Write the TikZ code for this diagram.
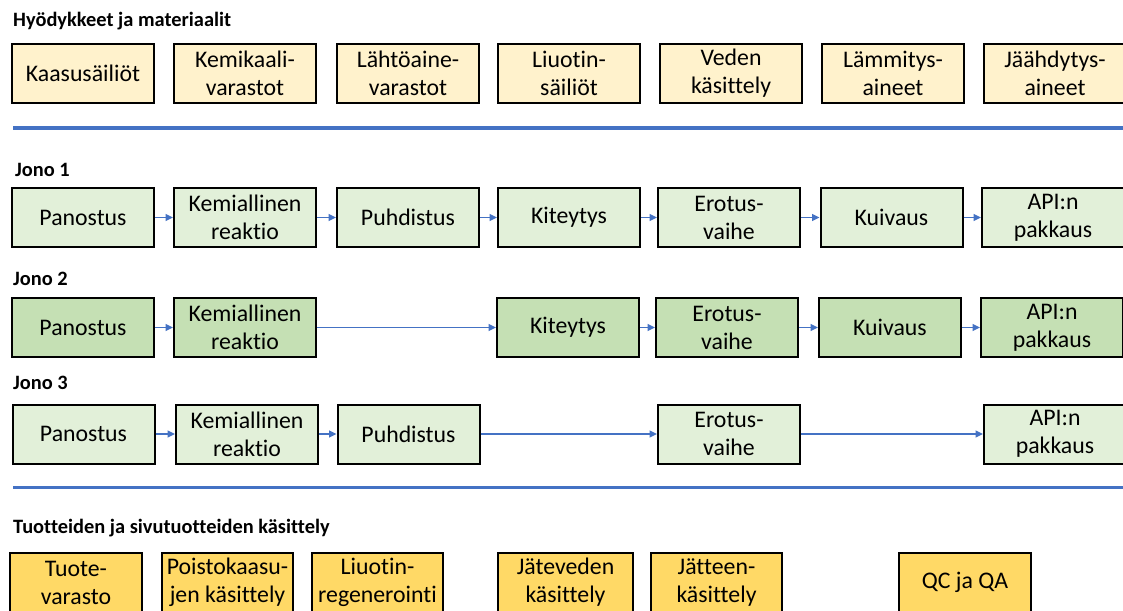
\documentclass[tikz,border=0pt]{standalone}
\usepackage{fontspec}
\setmainfont{Carlito}[Ligatures=NoCommon, Contextuals=NoAlternate, RawFeature={-liga;-clig;-calt;-dlig}]
\usetikzlibrary{arrows.meta}
\definecolor{peach}{HTML}{FFF2CC}
\definecolor{lgreen}{HTML}{E2F0D9}
\definecolor{mgreen}{HTML}{C5E0B4}
\definecolor{gold}{HTML}{FFD966}
\definecolor{oblue}{HTML}{4472C4}
\begin{document}
\begin{tikzpicture}[x=1pt,y=-1pt,
  box/.style={draw=black, line width=2pt, minimum width=142pt, minimum height=59pt,
    inner sep=0pt, align=center, font=\fontsize{23.8}{28}\selectfont},
  topbox/.style={box, fill=peach},
  j1box/.style={box, fill=lgreen},
  j2box/.style={box, fill=mgreen},
  botbox/.style={box, fill=gold, minimum width=132pt},
  head/.style={anchor=base west, inner sep=0pt, font=\fontsize{20.4}{24}\selectfont\bfseries},
  flow/.style={draw=oblue, line width=1.4pt, -{Triangle[length=7.5pt,width=7pt]}},
  sep/.style={draw=oblue, line width=3.2pt}]
\useasboundingbox (0,0) rectangle (1123,610);
\clip (0,0) rectangle (1123,610);
\fill[white] (0,0) rectangle (1123,610);

% headings
\node[head] (h0) at (13,26.7) {Hyödykkeet ja materiaalit};
\node[head] (h1) at (15,176) {Jono 1};
\node[head] (h2) at (13,285) {Jono 2};
\node[head] (h3) at (13,389) {Jono 3};
\node[head] (h4) at (13,533) {Tuotteiden ja sivutuotteiden käsittely};

% separators
\draw[sep] (13,128) -- (1123,128);
\draw[sep] (13,487.5) -- (1123,487.5);

% top row
\node[topbox] (t1) at (83,73.5) {Kaasusäiliöt};
\node[topbox] (t2) at (245,73.5) {Kemikaali-\\varastot};
\node[topbox] (t3) at (408,73.5) {Lähtöaine-\\varastot};
\node[topbox] (t4) at (569,73.5) {Liuotin-\\säiliöt};
\node[topbox] (t5) at (731,73.5) {Veden\\käsittely};
\node[topbox] (t6) at (893,73.5) {Lämmitys-\\aineet};
\node[topbox] (t7) at (1055,73.5) {Jäähdytys-\\aineet};

% Jono 1
\node[j1box] (a1) at (83,217.5) {Panostus};
\node[j1box] (a2) at (245,217.5) {Kemiallinen\\reaktio};
\node[j1box] (a3) at (408,217.5) {Puhdistus};
\node[j1box] (a4) at (569,217.5) {Kiteytys};
\node[j1box] (a5) at (729,217.5) {Erotus-\\vaihe};
\node[j1box] (a6) at (891.5,217.5) {Kuivaus};
\node[j1box] (a7) at (1053,217.5) {API:n\\pakkaus};
\draw[flow] (a1) -- (a2);
\draw[flow] (a2) -- (a3);
\draw[flow] (a3) -- (a4);
\draw[flow] (a4) -- (a5);
\draw[flow] (a5) -- (a6);
\draw[flow] (a6) -- (a7);

% Jono 2
\node[j2box] (b1) at (83,327.5) {Panostus};
\node[j2box] (b2) at (245,327.5) {Kemiallinen\\reaktio};
\node[j2box] (b4) at (568,327.5) {Kiteytys};
\node[j2box] (b5) at (727,327.5) {Erotus-\\vaihe};
\node[j2box] (b6) at (890,327.5) {Kuivaus};
\node[j2box] (b7) at (1052,327.5) {API:n\\pakkaus};
\draw[flow] (b1) -- (b2);
\draw[flow] (b2) -- (b4);
\draw[flow] (b4) -- (b5);
\draw[flow] (b5) -- (b6);
\draw[flow] (b6) -- (b7);

% Jono 3
\node[j1box] (c1) at (83.5,434) {Panostus};
\node[j1box] (c2) at (247,434) {Kemiallinen\\reaktio};
\node[j1box] (c3) at (408.5,434) {Puhdistus};
\node[j1box] (c5) at (729,434) {Erotus-\\vaihe};
\node[j1box] (c7) at (1055,434) {API:n\\pakkaus};
\draw[flow] (c1) -- (c2);
\draw[flow] (c2) -- (c3);
\draw[flow] (c3) -- (c5);
\draw[flow] (c5) -- (c7);

% bottom row
\node[botbox] (d1) at (76,582.5) {Tuote-\\varasto};
\node[botbox, minimum width=131pt] (d2) at (227.5,582.5) {Poistokaasu-\\jen käsittely};
\node[botbox, minimum width=131pt] (d3) at (377.5,582.5) {Liuotin-\\regenerointi};
\node[botbox, minimum width=135pt] (d4) at (565.5,582.5) {Jäteveden\\käsittely};
\node[botbox, minimum width=131pt] (d5) at (716.5,582.5) {Jätteen-\\käsittely};
\node[botbox] (d6) at (965,582.5) {QC ja QA};
\end{tikzpicture}
\end{document}
